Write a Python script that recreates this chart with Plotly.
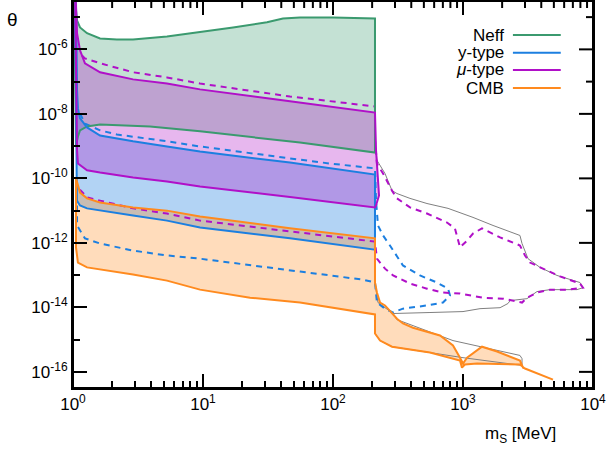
import numpy as np
import plotly.graph_objects as go

# ---- values, stored as log10(m_S/MeV) and log10(theta) ----
NEFF_UP_LGM = [0.008, 0.015, 0.031, 0.054, 0.108, 0.208, 0.338, 0.462, 0.723, 0.977, 1.231, 1.492, 1.615, 1.746, 2.0, 2.323]
NEFF_UP_LGT = [-3.86, -4.48, -5.10, -5.32, -5.50, -5.66, -5.69, -5.69, -5.60, -5.47, -5.32, -5.16, -5.04, -5.01, -5.01, -5.04]
NEFF_LO_LGM = [0.023, 0.038, 0.054, 0.108, 0.208, 0.592, 0.977, 1.746, 2.323]
NEFF_LO_LGT = [-8.98, -8.70, -8.51, -8.39, -8.33, -8.39, -8.54, -8.89, -9.20]

MU_UP_LGM = [0.015, 0.023, 0.031, 0.054, 0.092, 0.208, 0.462, 0.723, 0.977, 1.669, 2.323, 2.331, 2.346, 2.354, 2.331]
MU_UP_LGT = [-3.86, -4.48, -5.50, -6.03, -6.43, -6.71, -6.93, -7.06, -7.24, -7.61, -7.96, -9.13, -9.91, -10.53, -10.84]
MU_LO_LGM = [0.031, 0.038, 0.108, 0.208, 0.462, 0.723, 0.977, 1.669, 2.323]
MU_LO_LGT = [-9.13, -9.54, -9.75, -9.82, -9.97, -10.10, -10.25, -10.58, -10.90]

Y_UP_LGM = [0.015, 0.023, 0.031, 0.038, 0.054, 0.108, 0.208, 0.462, 0.723, 0.977, 1.669, 2.323]
Y_UP_LGT = [-3.86, -4.48, -7.27, -7.83, -8.14, -8.42, -8.67, -8.85, -9.01, -9.17, -9.51, -9.88]
Y_LO_LGM = [0.030, 0.054, 0.108, 0.208, 0.462, 0.723, 0.977, 1.669, 2.323]
Y_LO_LGT = [-10.69, -10.84, -10.93, -11.00, -11.15, -11.31, -11.52, -11.86, -12.21]

CMB_UP_LGM = [0.023, 0.054, 0.108, 0.208, 0.462, 0.723, 0.977, 1.669, 2.323,
              2.323, 2.338, 2.362, 2.4, 2.454, 2.492, 2.538, 2.615, 2.823, 2.923, 2.977, 3.0, 3.031,
              3.146, 3.262, 3.438, 3.462, 3.569, 3.692]
CMB_UP_LGT = [-10.0, -10.44, -10.62, -10.75, -10.90, -11.0, -11.18, -11.55, -11.86,
              -13.23, -13.54, -13.85, -13.94, -14.19, -14.35, -14.50, -14.63, -14.87, -15.18, -15.56, -15.74, -15.56,
              -15.22, -15.37, -15.65, -15.87, -16.05, -16.24]
CMB_LO_LGM = [0.023, 0.038, 0.108, 0.208, 0.462, 0.723, 0.977, 1.362, 1.746, 2.323, 2.323, 2.362, 2.454,
              2.746, 2.977, 2.992, 3.015, 3.108, 3.438, 3.477, 3.569, 3.692]
CMB_LO_LGT = [-12.14, -12.61, -12.76, -12.83, -12.98, -13.17, -13.45, -13.70, -13.85, -14.22, -14.81, -15.03, -15.22,
              -15.40, -15.65, -15.87, -15.77, -15.74, -15.77, -15.90, -16.05, -16.24]

MU_DASH_LGM = [0.069, 0.092, 0.208, 0.462, 0.723, 0.977, 1.669, 2.323, 2.323, 2.338, 2.385, 2.454, 2.492, 2.592,
               2.723, 2.877, 2.938, 2.977, 3.031, 3.077, 3.146, 3.285, 3.438, 3.477, 3.515, 3.615, 3.746, 3.9,
               3.923, 3.8, 3.669, 3.569, 3.492, 3.454, 3.377, 3.308, 3.154, 3.054, 2.977, 2.846, 2.723, 2.592,
               2.462, 2.4, 2.338, 2.323, 1.669, 0.977, 0.723, 0.462, 0.208, 0.108, 0.038]
MU_DASH_LGT = [-6.19, -6.28, -6.43, -6.71, -6.87, -7.06, -7.46, -7.77, -8.82, -9.54, -9.85, -10.38, -10.62, -10.90,
               -11.09, -11.37, -11.55, -12.14, -11.93, -11.71, -11.55, -11.83, -12.08, -12.39, -12.61, -12.80, -13.04,
               -13.26, -13.39, -13.45, -13.45, -13.54, -13.70, -13.85, -13.79, -13.73, -13.70, -13.63, -13.57, -13.54,
               -13.42, -13.26, -13.01, -12.80, -12.49, -11.96, -11.65, -11.31, -11.09, -10.93, -10.69, -10.59, -10.28]

Y_DASH_LGM = [0.054, 0.092, 0.208, 0.338, 0.723, 0.977, 1.669, 1.977, 2.323, 2.331, 2.346, 2.385, 2.438, 2.538,
              2.669, 2.8, 2.885, 2.9, 2.846, 2.723, 2.538, 2.462, 2.4, 2.338, 2.323, 2.231, 1.746, 0.977, 0.723,
              0.462, 0.208, 0.092, 0.031, 0.031]
Y_DASH_LGT = [-7.99, -8.30, -8.51, -8.64, -8.85, -9.01, -9.38, -9.54, -9.69, -10.69, -11.46, -11.77, -12.08, -12.70,
              -13.01, -13.23, -13.42, -13.63, -13.85, -13.94, -14.04, -14.16, -14.04, -13.85, -13.23, -13.14, -12.89,
              -12.49, -12.39, -12.24, -12.02, -11.86, -11.46, -10.84]

GREY1_LGM = [2.331, 2.338, 2.4, 2.423, 2.454, 2.492, 2.592, 2.723, 2.885, 3.077, 3.231, 3.438, 3.454, 3.5, 3.592,
             3.723, 3.9, 3.923, 3.877, 3.669, 3.569, 3.492, 3.362, 3.346, 3.285, 3.131, 3.0, 2.746, 2.462]
GREY1_LGT = [-9.13, -9.44, -9.85, -10.06, -10.38, -10.47, -10.62, -10.78, -10.93, -11.21, -11.46, -11.77, -12.02,
             -12.49, -12.76, -13.01, -13.23, -13.39, -13.45, -13.45, -13.51, -13.73, -13.79, -13.88, -14.01, -14.04,
             -14.13, -14.16, -14.19]
GREY2_LGM = [2.323, 2.323, 2.346, 2.438, 2.462, 2.492, 2.923, 3.438, 3.454, 3.454, 3.0, 2.454, 2.362, 2.323]
GREY2_LGT = [-12.24, -13.23, -13.85, -14.10, -14.19, -14.38, -15.03, -15.49, -15.59, -15.80, -15.56, -15.22, -15.03, -14.81]

LEGEND_NAMES = ["Neff", "y-type", "<i>\u03bc</i>-type", "CMB"]
X_TICKS = [1, 10, 100, 1000, 10000]
X_EXP = ["0", "1", "2", "3", "4"]
Y_TICKS = [1e-6, 1e-8, 1e-10, 1e-12, 1e-14, 1e-16]
Y_EXP = ["-6", "-8", "-10", "-12", "-14", "-16"]

GREEN = "#3b9a6f"
BLUE = "#1c7fe0"
MAGENTA = "#b010c8"
ORANGE = "#ff8a1e"
GREY = "#808080"
FONT = "Liberation Sans, Arial, sans-serif"


def power_label(e):
    return "10<sup><span style='font-size:12px'>" + e + "</span></sup>"


def to_val(a):
    return list(10 ** np.asarray(a, dtype=float))


def polygon(up_m, up_t, lo_m, lo_t):
    m = list(up_m) + list(lo_m)[::-1]
    t = list(up_t) + list(lo_t)[::-1]
    m.append(m[0])
    t.append(t[0])
    return to_val(m), to_val(t)


bands = [
    (NEFF_UP_LGM, NEFF_UP_LGT, NEFF_LO_LGM, NEFF_LO_LGT, GREEN, "rgba(59,154,111,0.30)"),
    (Y_UP_LGM, Y_UP_LGT, Y_LO_LGM, Y_LO_LGT, BLUE, "rgba(28,127,224,0.34)"),
    (MU_UP_LGM, MU_UP_LGT, MU_LO_LGM, MU_LO_LGT, MAGENTA, "rgba(176,16,200,0.30)"),
    (CMB_UP_LGM, CMB_UP_LGT, CMB_LO_LGM, CMB_LO_LGT, ORANGE, "rgba(255,138,30,0.30)"),
]

fig = go.Figure()

# fills first
for um, ut, lm, lt, col, fcol in bands:
    x, y = polygon(um, ut, lm, lt)
    fig.add_trace(go.Scatter(x=x, y=y, mode="lines", fill="toself", fillcolor=fcol,
                             line=dict(width=0), hoverinfo="skip", showlegend=False))

# thin grey contours
for gm, gt in [(GREY1_LGM, GREY1_LGT), (GREY2_LGM, GREY2_LGT)]:
    fig.add_trace(go.Scatter(x=to_val(gm), y=to_val(gt), mode="lines",
                             line=dict(color=GREY, width=1), hoverinfo="skip", showlegend=False))

# dashed contours
fig.add_trace(go.Scatter(x=to_val(Y_DASH_LGM), y=to_val(Y_DASH_LGT), mode="lines",
                         line=dict(color=BLUE, width=2, dash="6px,5px"), hoverinfo="skip", showlegend=False))
fig.add_trace(go.Scatter(x=to_val(MU_DASH_LGM), y=to_val(MU_DASH_LGT), mode="lines",
                         line=dict(color=MAGENTA, width=2, dash="6px,5px"), hoverinfo="skip", showlegend=False))

# solid outlines
for um, ut, lm, lt, col, fcol in bands:
    x, y = polygon(um, ut, lm, lt)
    fig.add_trace(go.Scatter(x=x, y=y, mode="lines", line=dict(color=col, width=2),
                             hoverinfo="skip", showlegend=False))

X_RANGE = [0, 4]
Y_RANGE = [-16.5, -4.5]
PLOT_W = 606 - 73 - 13
PLOT_H = 451 - 1 - 63
x_minor = [k * 10 ** e for e in range(0, 4) for k in range(2, 10)]
y_minor = [10.0 ** e for e in (-5, -7, -9, -11, -13, -15)]

# legend (text on the left, line key on the right)
legend_cols = [GREEN, BLUE, MAGENTA, ORANGE]
legend_y = [0.912, 0.866, 0.822, 0.775]
annotations = []
shapes = []
for name, col, ly in zip(LEGEND_NAMES, legend_cols, legend_y):
    annotations.append(dict(x=0.831, y=ly, xref="paper", yref="paper", text=name, showarrow=False,
                            xanchor="right", yanchor="middle", borderpad=0,
                            font=dict(size=17, family=FONT, color="black")))
    shapes.append(dict(type="line", xref="paper", yref="paper", x0=0.846, x1=0.938, y0=ly, y1=ly,
                       line=dict(color=col, width=2)))

# frame: border plus mirrored inward ticks on top and right edges
shapes.append(dict(type="rect", xref="paper", yref="paper", x0=0, x1=1, y0=0, y1=1,
                   line=dict(color="black", width=2), fillcolor="rgba(0,0,0,0)"))
for vals, length in [(X_TICKS, 14), (x_minor, 7)]:
    for v in vals:
        fx = (np.log10(v) - X_RANGE[0]) / (X_RANGE[1] - X_RANGE[0])
        shapes.append(dict(type="line", xref="paper", yref="paper", x0=fx, x1=fx,
                           y0=1, y1=1 - length / PLOT_H, line=dict(color="black", width=2)))
for vals, length in [(Y_TICKS, 14), (y_minor, 7)]:
    for v in vals:
        fy = (np.log10(v) - Y_RANGE[0]) / (Y_RANGE[1] - Y_RANGE[0])
        shapes.append(dict(type="line", xref="paper", yref="paper", x0=1, x1=1 - length / PLOT_W,
                           y0=fy, y1=fy, line=dict(color="black", width=2)))

annotations.append(dict(x=-0.117, y=0.953, xref="paper", yref="paper", text="\u03b8", showarrow=False,
                        xanchor="center", yanchor="middle", font=dict(size=19, family=FONT, color="black")))
annotations.append(dict(x=0.933, y=-0.121, xref="paper", yref="paper", text="m<sub>S</sub> [MeV]",
                        showarrow=False, xanchor="right", yanchor="middle",
                        font=dict(size=17, family=FONT, color="black")))

common = dict(showgrid=False, zeroline=False, automargin=False, tickwidth=2, tickcolor="black",
              ticks="inside", ticklen=14, showline=True, linewidth=2, linecolor="black", mirror=True,
              ticklabeloverflow="allow", tickfont=dict(size=17, family=FONT, color="black"))

fig.update_layout(
    width=606, height=451,
    margin=dict(l=73, r=13, t=1, b=63, autoexpand=False),
    paper_bgcolor="white", plot_bgcolor="white",
    showlegend=False,
    xaxis=dict(type="log", range=X_RANGE, tickvals=X_TICKS, ticktext=[power_label(e) for e in X_EXP],
               minor=dict(tickvals=x_minor, ticks="inside", ticklen=7, tickwidth=2, tickcolor="black"),
               **common),
    yaxis=dict(type="log", range=Y_RANGE, tickvals=Y_TICKS, ticktext=[power_label(e) for e in Y_EXP],
               minor=dict(tickvals=y_minor, ticks="inside", ticklen=7, tickwidth=2, tickcolor="black"),
               **common),
    annotations=annotations,
    shapes=shapes,
)

fig.write_html("out.html", config={"displayModeBar": False},
               post_script="document.body.style.margin='0';document.body.style.overflow='hidden';")
